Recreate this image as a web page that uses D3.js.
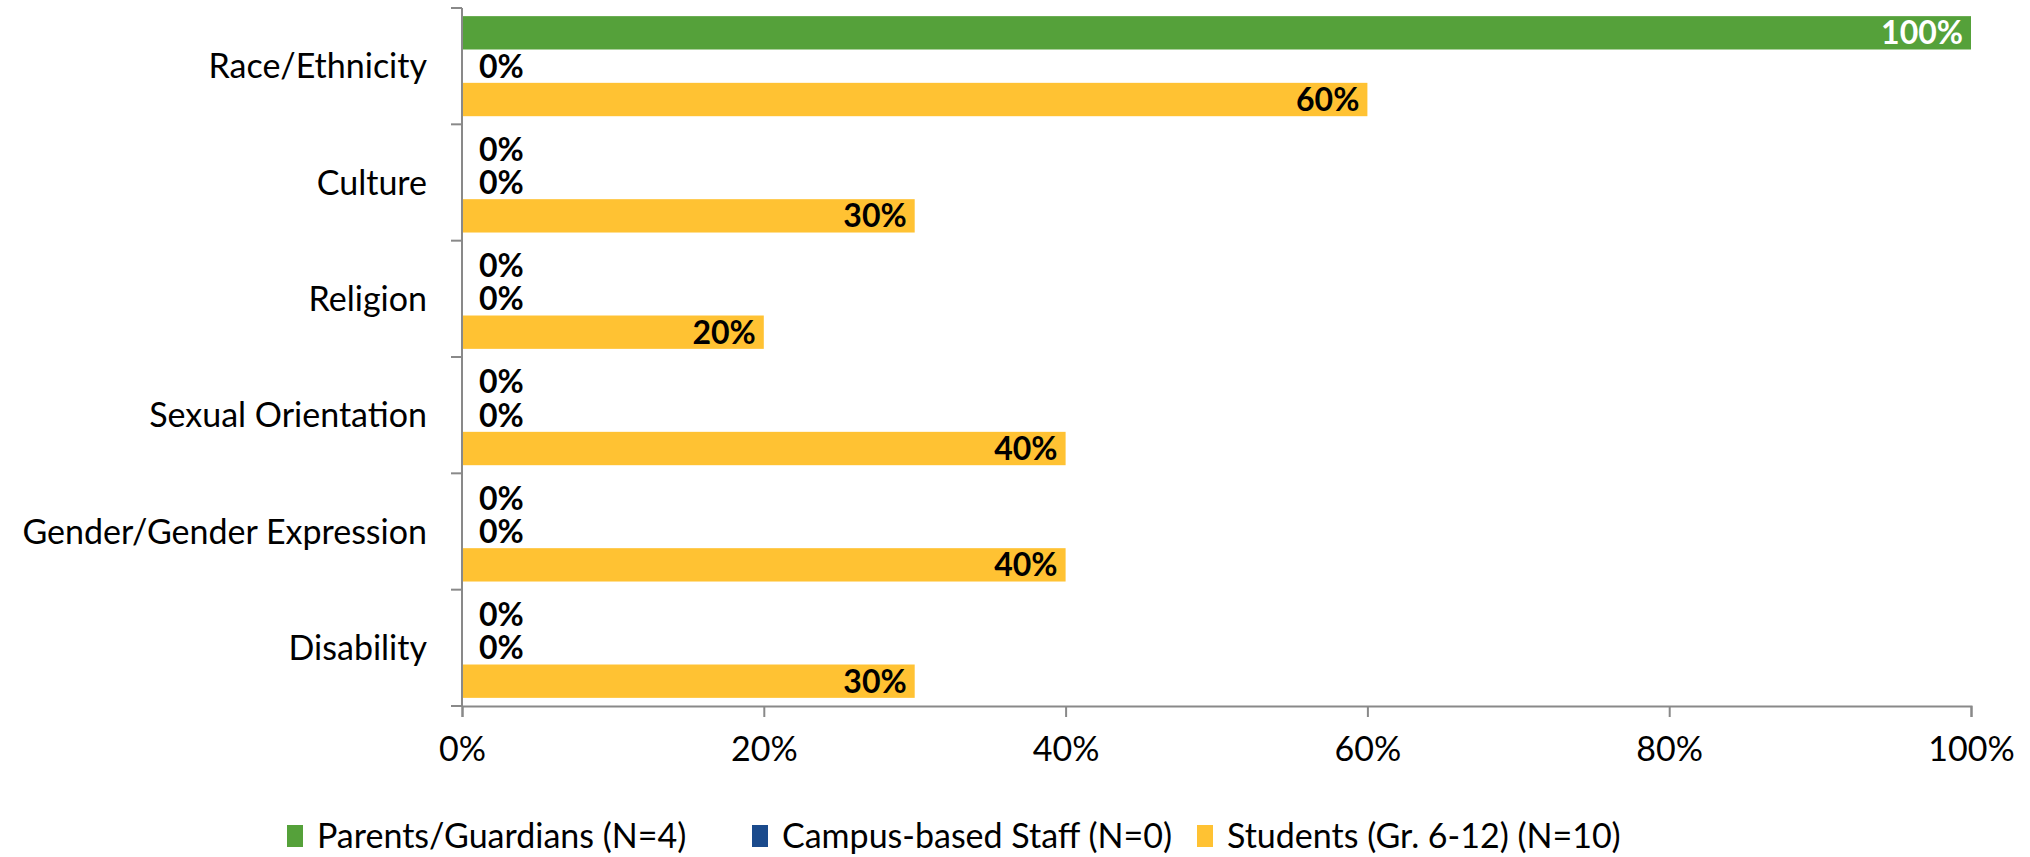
<!DOCTYPE html>
<html>
<head>
<meta charset="utf-8">
<script src="https://cdn.jsdelivr.net/npm/d3@7"></script>
<style>
  body { margin: 0; background: #fff; }
  text { font-family: Lato, "Open Sans", sans-serif; }
</style>
</head>
<body>
<svg id="chart"></svg>
<script>
// categories top to bottom
var categories = ["Race/Ethnicity", "Culture", "Religion", "Sexual Orientation", "Gender/Gender Expression", "Disability"];
var seriesNames = ["Parents/Guardians (N=4)", "Campus-based Staff (N=0)", "Students (Gr. 6-12) (N=10)"];
var seriesColors = ["#55A13A", "#1A4A8C", "#FFC233"];
var parents  = [100, 0, 0, 0, 0, 0];
var staff    = [0, 0, 0, 0, 0, 0];
var students = [60, 30, 20, 40, 40, 30];
var xTicks = [0, 20, 40, 60, 80, 100];

var svg = d3.select("#chart")
	.attr("width", 2030)
	.attr("height", 857);

var x = d3.scaleLinear().domain([0, 100]).range([462, 1971]);
var y = d3.scaleBand().domain(categories).range([8, 706]).paddingInner(0.14).paddingOuter(0.07);
var ySub = d3.scaleBand().domain([0, 1, 2]).range([0, y.bandwidth()]);

var rows = [];
categories.forEach(function(c, i) {
	[parents, staff, students].forEach(function(s, k) {
		rows.push({cat: c, k: k, v: s[i]});
	});
});

// bars
svg.append("g").selectAll("rect")
	.data(rows)
	.join("rect")
	.attr("x", x(0))
	.attr("y", function(d) { return y(d.cat) + ySub(d.k); })
	.attr("width", function(d) { return x(d.v) - x(0); })
	.attr("height", ySub.bandwidth())
	.attr("fill", function(d) { return seriesColors[d.k]; });

// data labels
svg.append("g").selectAll("text")
	.data(rows)
	.join("text")
	.attr("x", function(d) { return d.v > 0 ? x(d.v) - 8 : x(0) + 17; })
	.attr("y", function(d) { return y(d.cat) + ySub(d.k) + ySub.bandwidth() / 2; })
	.attr("dy", "0.36em")
	.attr("text-anchor", function(d) { return d.v > 0 ? "end" : "start"; })
	.attr("font-size", 32)
	.attr("font-weight", "bold")
	.attr("fill", function(d) { return d.k == 0 && d.v > 0 ? "#fff" : "#000"; })
	.text(function(d) { return d.v + "%"; });

// y axis
var axisColor = "#898989";
var yAxis = svg.append("g");
yAxis.append("line")
	.attr("x1", x(0)).attr("x2", x(0))
	.attr("y1", 8).attr("y2", 706)
	.attr("stroke", axisColor).attr("stroke-width", 2);
yAxis.selectAll("line.tick")
	.data(d3.range(categories.length + 1))
	.join("line")
	.attr("class", "tick")
	.attr("x1", x(0) - 11).attr("x2", x(0))
	.attr("y1", function(i) { return 8 + i * (698 / categories.length); })
	.attr("y2", function(i) { return 8 + i * (698 / categories.length); })
	.attr("stroke", axisColor).attr("stroke-width", 2);
yAxis.selectAll("text")
	.data(categories)
	.join("text")
	.attr("x", 427)
	.attr("y", function(c) { return y(c) + y.bandwidth() / 2; })
	.attr("dy", "0.36em")
	.attr("text-anchor", "end")
	.attr("font-size", 34)
	.attr("fill", "#000")
	.text(function(c) { return c; });

// x axis
var xAxis = svg.append("g")
	.attr("transform", "translate(0,706)")
	.call(d3.axisBottom(x).tickValues(xTicks).tickSize(11).tickPadding(20).tickFormat(function(d) { return d + "%"; }));
xAxis.select(".domain").attr("stroke", axisColor).attr("stroke-width", 2);
xAxis.selectAll(".tick line").attr("stroke", axisColor).attr("stroke-width", 2);
xAxis.selectAll(".tick text")
	.attr("font-size", 34)
	.attr("font-family", "Lato, sans-serif")
	.attr("fill", "#000");

// legend
var legendX = [287, 752, 1197];
var legend = svg.append("g").selectAll("g")
	.data(seriesNames)
	.join("g")
	.attr("transform", function(d, i) { return "translate(" + legendX[i] + ",836)"; });
legend.append("rect")
	.attr("x", 0).attr("y", -11)
	.attr("width", 16).attr("height", 22)
	.attr("fill", function(d, i) { return seriesColors[i]; });
legend.append("text")
	.attr("x", 30)
	.attr("dy", "0.36em")
	.attr("font-size", 34)
	.attr("fill", "#000")
	.text(function(d) { return d; });
</script>
</body>
</html>
